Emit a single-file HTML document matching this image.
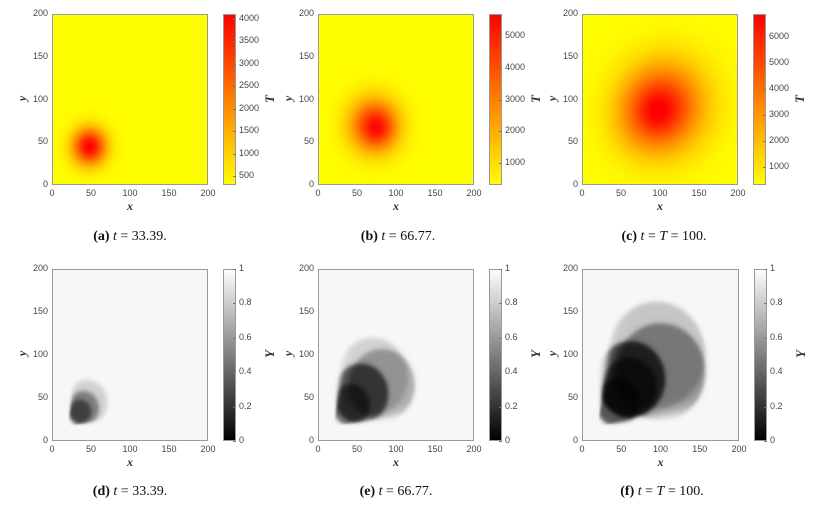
<!DOCTYPE html>
<html><head><meta charset="utf-8"><style>
body{margin:0;background:#fff;width:829px;height:506px;overflow:hidden;position:relative;font-family:"Liberation Sans",sans-serif}
canvas{position:absolute;image-rendering:auto}
.t{position:absolute;font-size:9px;color:#444;white-space:nowrap}
.cap{position:absolute;font-family:"Liberation Serif",serif;font-size:14px;color:#111;white-space:nowrap;transform:translateX(-50%)}
.lab{position:absolute;font-family:"Liberation Serif",serif;font-style:italic;font-weight:bold;font-size:12px;color:#333}
.frame{position:absolute;border:1px solid #999;box-sizing:border-box;pointer-events:none}
</style></head><body>
<div id="root"></div>
<script>
// Temperature blobs per panel: [cx, cy, sigma, peak]
const tBlobsA=[[48,45,15,3800]];
const tBlobsB=[[72,70,22,4400],[78,64,14,1000]];
const tBlobsC=[[100,90,34,4700],[120,100,40,1200],[75,70,30,900],[95,85,14,700]];
const tMinVals=[300,300,300];
const tMaxVals=[4100,5700,6900];
const tTicksA=[500,1000,1500,2000,2500,3000,3500,4000];
const tTicksB=[1000,2000,3000,4000,5000];
const tTicksC=[1000,2000,3000,4000,5000,6000];
// Y discs per panel: [cx, cy, r, factor]
const yDiscsD=[[45,45,26,0.85],[40,38,20,0.6],[36,34,14,0.5]];
const yDiscsE=[[70,75,45,0.85],[82,65,42,0.7],[55,55,35,0.35],[42,42,24,0.45]];
const yDiscsF=[[95,100,62,0.8],[100,80,57,0.6],[62,72,44,0.25],[60,62,35,0.4],[45,45,28,0.35]];
const yBg=0.97;
const yTicks=[0,0.2,0.4,0.6,0.8,1];
const axTicks=[0,50,100,150,200];
const apexX=20, apexY=17, angLo=9, angHi=81;

const root=document.getElementById('root');
function el(tag,cls,style,txt){const e=document.createElement(tag);if(cls)e.className=cls;if(style)e.style.cssText=style;if(txt!=null)e.innerHTML=txt;root.appendChild(e);return e;}
const N=120;
const sig=z=>1/(1+Math.exp(-z));
function tField(blobs,base){return (x,y)=>{let v=base;for(const b of blobs){const d2=(x-b[0])**2+(y-b[1])**2;v+=b[3]*Math.exp(-d2/(2*b[2]*b[2]));}return v;};}
function yField(discs){return (x,y)=>{
  const ang=Math.atan2(y-apexY,x-apexX)*180/Math.PI;
  const m=sig((ang-angLo)/2.5)*sig((angHi-ang)/2.5)*sig((Math.hypot(x-apexX,y-apexY)-2)/1.5);
  let v=yBg;for(const d of discs){const r=Math.hypot(x-d[0],y-d[1]);const s=sig((d[2]-r)/1.5);v*=1-(1-d[3])*s*m;}return v;};}
function autumn(f){f=Math.max(0,Math.min(1,f));return [255,Math.round(255*(1-f)),0];}
function gray(f){f=Math.max(0,Math.min(1,f));const g=Math.round(255*f);return [g,g,g];}
function panel(o){
  const {px,py,w,h,field,vmin,vmax,cmap,ticks,cname,name}=o;
  const c=el('canvas','',`left:${px}px;top:${py}px;width:${w}px;height:${h}px`);
  
  
  c.width=N;c.height=N;const ctx=c.getContext('2d');const im=ctx.createImageData(N,N);
  for(let j=0;j<N;j++)for(let i=0;i<N;i++){const x=(i+0.5)*200/N,y=200-(j+0.5)*200/N;const col=cmap((field(x,y)-vmin)/(vmax-vmin));const k=(j*N+i)*4;im.data[k]=col[0];im.data[k+1]=col[1];im.data[k+2]=col[2];im.data[k+3]=255;}
  ctx.putImageData(im,0,0);
  const fr=el('div','frame',`left:${px}px;top:${py}px;width:${w}px;height:${h}px`);
  
  
  const sx=v=>px+v/200*w, sy=v=>py+h-v/200*h;
  axTicks.forEach(v=>{
    const a=el('div','t',`left:${sx(v)}px;top:${py+h+3}px;transform:translateX(-50%)`,v);
    
    
    const b=el('div','t',`right:${829-px+4}px;top:${sy(v)-6}px`,v);
    
    
  });
  const xl=el('div','lab',`left:${px+w/2-3}px;top:${py+h+14}px`,'x');
  
  
  const yl=el('div','lab',`left:${px-32}px;top:${py+h/2-9}px;transform:rotate(-90deg)`,'y');
  
  
  const cx=px+w+15, cw=13;
  const cb=el('canvas','',`left:${cx}px;top:${py}px;width:${cw}px;height:${h}px`);
  
  
  cb.width=1;cb.height=200;const cc=cb.getContext('2d');
  for(let j=0;j<200;j++){const col=cmap(1-j/199);cc.fillStyle='rgb('+col.join(',')+')';cc.fillRect(0,j,1,1);}
  const cf=el('div','frame',`left:${cx}px;top:${py}px;width:${cw}px;height:${h}px`);
  
  
  ticks.forEach(v=>{
    const yy=py+h-(v-vmin)/(vmax-vmin)*h;
    const tl=el('div','t',`left:${cx+cw+3}px;top:${yy-6}px`,v);
    
    
    const tk=el('div','',`position:absolute;left:${cx+cw-3}px;top:${yy}px;width:3px;height:1px;background:#777`);
    
    
  });
  const clab=el('div','lab',`left:${cx+cw+30}px;top:${py+h/2-9}px;transform:rotate(-90deg);font-size:13px`,cname);
  
  
}
const topY=14,botY=269,H=171,W=156;
panel({px:52,py:topY,w:W,h:H,field:tField(tBlobsA,tMinVals[0]),vmin:tMinVals[0],vmax:tMaxVals[0],cmap:autumn,ticks:tTicksA,cname:'T',name:'panel-a'});
panel({px:318,py:topY,w:W,h:H,field:tField(tBlobsB,tMinVals[1]),vmin:tMinVals[1],vmax:tMaxVals[1],cmap:autumn,ticks:tTicksB,cname:'T',name:'panel-b'});
panel({px:582,py:topY,w:W,h:H,field:tField(tBlobsC,tMinVals[2]),vmin:tMinVals[2],vmax:tMaxVals[2],cmap:autumn,ticks:tTicksC,cname:'T',name:'panel-c'});
panel({px:52,py:botY,w:W,h:H+1,field:yField(yDiscsD),vmin:0,vmax:1,cmap:gray,ticks:yTicks,cname:'Y',name:'panel-d'});
panel({px:318,py:botY,w:W,h:H+1,field:yField(yDiscsE),vmin:0,vmax:1,cmap:gray,ticks:yTicks,cname:'Y',name:'panel-e'});
panel({px:582,py:botY,w:157,h:H+1,field:yField(yDiscsF),vmin:0,vmax:1,cmap:gray,ticks:yTicks,cname:'Y',name:'panel-f'});
const caps=[[130,229,'a','<i>t</i> = 33.39.'],[398,229,'b','<i>t</i> = 66.77.'],[664,229,'c','<i>t</i> = <i>T</i> = 100.'],
[130,484,'d','<i>t</i> = 33.39.'],[396,484,'e','<i>t</i> = 66.77.'],[662,484,'f','<i>t</i> = <i>T</i> = 100.']];
caps.forEach(c=>{const e=el('div','cap',`left:${c[0]}px;top:${c[1]}px`,`<b>(${c[2]})</b> ${c[3]}`);

});
</script>
</body></html>
